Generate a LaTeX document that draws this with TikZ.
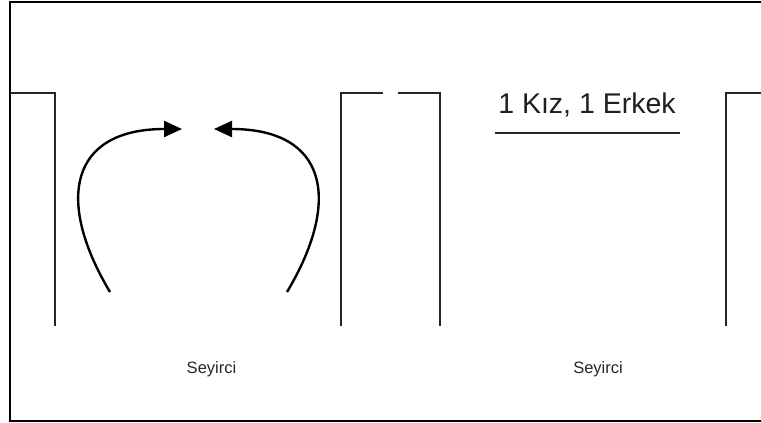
\documentclass[tikz,border=0pt]{standalone}
\usepackage{fontspec}
\setmainfont{Liberation Sans}
\usetikzlibrary{arrows.meta}
\begin{document}
\begin{tikzpicture}[x=1pt,y=-1pt,
  wall/.style={line width=2.4pt,color=black!85},
  frame/.style={line width=2.2pt,color=black},
  turnarrow/.style={line width=2.4pt,-{Triangle[length=18pt,width=16pt]}},
  bigtext/.style={font=\fontsize{28.5}{32}\selectfont,inner sep=0pt,anchor=base,text=black!88},
  smalltext/.style={font=\fontsize{16.5}{19}\selectfont,inner sep=0pt,anchor=base,text=black!85}]
\useasboundingbox (0,0) rectangle (761,423);
% frame (no right side)
\draw[frame] (761,2) -- (10,2) -- (10,421) -- (761,421);
% walls
\draw[wall] (10,93) -- (55,93) -- (55,326);
\draw[wall] (383,93) -- (341,93) -- (341,326);
\draw[wall] (398,93) -- (440,93) -- (440,326);
\draw[wall] (761,93) -- (726,93) -- (726,326);
% arrows
\coordinate (la) at (110,292);
\coordinate (lt) at (182,129);
\coordinate (ra) at (287,292);
\coordinate (rt) at (214,129);
\draw[turnarrow] (la) .. controls (55,200) and (70,129) .. (lt);
\draw[turnarrow] (ra) .. controls (342,200) and (327,129) .. (rt);
% texts
\node[bigtext] (title) at (587,113) {1 Kız, 1 Erkek};
\draw[wall] (495,133) -- (680,133);
\node[smalltext] (s1) at (211.5,373) {Seyirci};
\node[smalltext] (s2) at (598,373) {Seyirci};
\end{tikzpicture}
\end{document}
